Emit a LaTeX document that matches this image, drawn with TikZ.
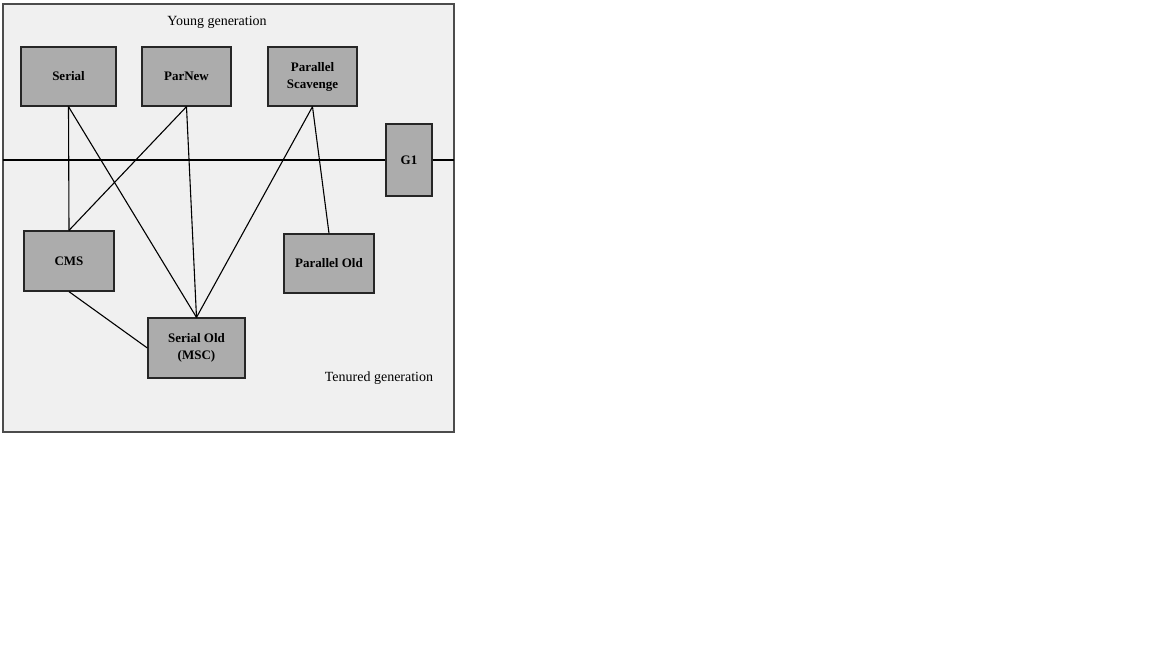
\documentclass[tikz,border=0pt]{standalone}
\usepackage{fontspec}
\setmainfont{Liberation Serif}
\definecolor{boxgray}{RGB}{172,172,172}
\definecolor{scangray}{RGB}{240,240,240}
\tikzset{
  gc/.style={draw=black!85, line width=1.3pt, fill=boxgray, inner sep=0pt,
    align=center, font=\fontsize{13}{17}\selectfont\bfseries},
  genlabel/.style={font=\fontsize{14}{15}\selectfont}
}
\begin{document}
\begin{tikzpicture}[x=1pt, y=-1pt, line width=1.1pt]
      \useasboundingbox (0,0) rectangle (1152,648);
      \draw[black!70, fill=scangray] (3,4) rectangle (454,432);
      \draw
        (217,22) node[genlabel] (young){Young generation}
        (379,378) node[genlabel] (tenured){Tenured generation}
        (68.5,76.5) node[gc, minimum width=95pt, minimum height=59pt] (serial){Serial}
        (186.5,76.5) node[gc, minimum width=89pt, minimum height=59pt] (parnew){ParNew}
        (312.5,76.5) node[gc, minimum width=89pt, minimum height=59pt] (scavenge){Parallel\\Scavenge}
        (409,160) node[gc, minimum width=46pt, minimum height=72pt] (g1){G1}
        (69,261) node[gc, minimum width=90pt, minimum height=60pt] (cms){CMS}
        (329,263.5) node[gc, minimum width=90pt, minimum height=59pt] (parold){Parallel Old}
        (196.5,348) node[gc, minimum width=97pt, minimum height=60pt] (serialold){Serial Old\\(MSC)};
      \coordinate (left) at (3,160);
      \coordinate (right) at (454,160);
      \begin{scope}[-]
        \draw (left) to (g1.west);
        \draw (g1.east) to (right);
        \draw (serial.south) to (cms.north);
        \draw (serial.south) to (serialold.north);
        \draw (parnew.south) to (cms.north);
        \draw (parnew.south) to (serialold.north);
        \draw (scavenge.south) to (serialold.north);
        \draw (scavenge.south) to (parold.north);
        \draw (cms.south) to (serialold.west);
      \end{scope}
    \end{tikzpicture}
\end{document}
